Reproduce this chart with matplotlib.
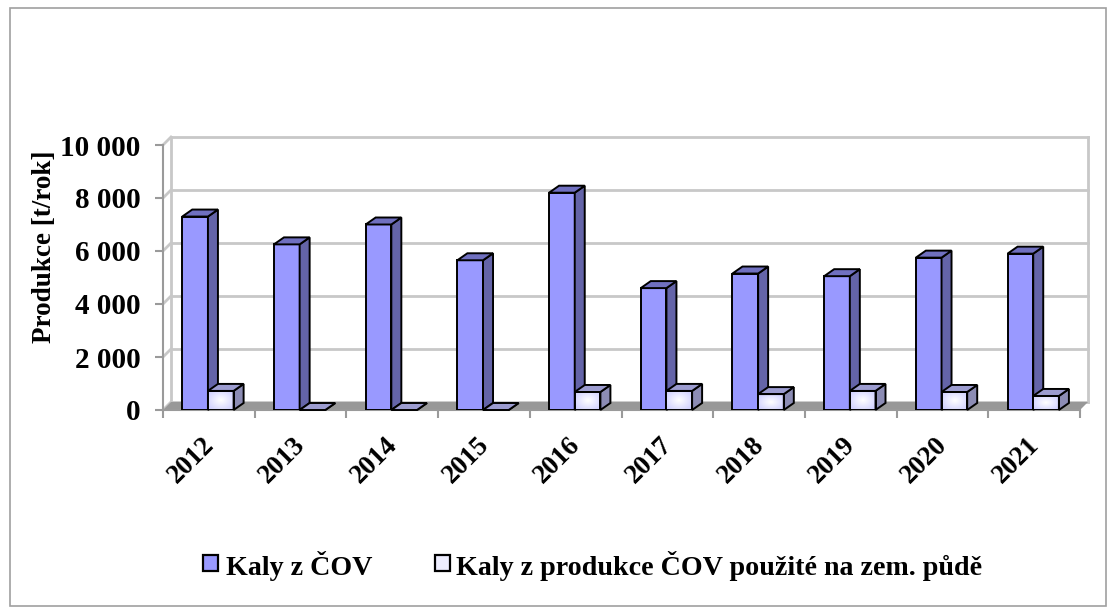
import matplotlib
matplotlib.use('Agg')
import matplotlib.pyplot as plt
from matplotlib.patches import Polygon, Rectangle
from matplotlib.transforms import IdentityTransform, ScaledTranslation
from matplotlib.lines import Line2D
import numpy as np

years = ['2012', '2013', '2014', '2015', '2016', '2017', '2018', '2019', '2020', '2021']
kaly = [7300, 6250, 7000, 5650, 8200, 4600, 5150, 5050, 5750, 5900]
pouzite = [720, 0, 0, 0, 680, 720, 600, 720, 680, 530]
yticks = [0, 2000, 4000, 6000, 8000, 10000]
ytick_labels = ['0', '2 000', '4 000', '6 000', '8 000', '10 000']
series_names = ['Kaly z ČOV', 'Kaly z produkce ČOV použité na zem. půdě']

FONT = 'Liberation Serif'
W, H = 1107, 610
fig = plt.figure(figsize=(W / 100, H / 100), dpi=100)
fig.patch.set_facecolor('white')
ax = fig.add_axes([163 / W, 1 - 410 / H, (1080 - 163) / W, (410 - 145) / H])
ax.set_xlim(-0.5, 9.5)
ax.set_ylim(0, 10000)
ax.patch.set_visible(False)
for s in ['top', 'right']:
    ax.spines[s].set_visible(False)
for s in ['left', 'bottom']:
    ax.spines[s].set_color('#9a9a9a')
    ax.spines[s].set_linewidth(1.5)

ident = IdentityTransform()
WALL = (8, 8)   # depth offset for back wall (px)
BD = (10, 7)    # depth offset for bars (px)

def px(x, y):
    return ax.transData.transform((x, y))

# back wall gridlines + side wall diagonals
for v in yticks:
    a = px(-0.5, v)
    b = px(9.5, v)
    ax.add_line(Line2D([a[0] + WALL[0], b[0] + WALL[0]], [a[1] + WALL[1], b[1] + WALL[1]],
                       transform=ident, color='#c8c8c8', lw=2, zorder=1, clip_on=False))
    ax.add_line(Line2D([a[0], a[0] + WALL[0]], [a[1], a[1] + WALL[1]],
                       transform=ident, color='#c8c8c8', lw=2, zorder=1, clip_on=False))
for xe in (-0.5, 9.5):
    a = px(xe, 0); b = px(xe, 10000)
    ax.add_line(Line2D([a[0] + WALL[0], b[0] + WALL[0]], [a[1] + WALL[1], b[1] + WALL[1]],
                       transform=ident, color='#c8c8c8', lw=2, zorder=1, clip_on=False))

# floor
f0 = px(-0.5, 0); f1 = px(9.5, 0)
ax.add_patch(Polygon([f0, f1, (f1[0] + WALL[0], f1[1] + WALL[1]), (f0[0] + WALL[0], f0[1] + WALL[1])],
                     closed=True, transform=ident, facecolor='#989898', edgecolor='none',
                     zorder=2, clip_on=False))

bw = 0.28
xs = np.arange(len(years))
blue_x = xs - 0.29
white_x = xs - 0.01

def bar3d(x0, h, side, top, z):
    p1 = px(x0 + bw, 0); q1 = px(x0 + bw, h); q0 = px(x0, h)
    dx, dy = BD
    ax.add_patch(Polygon([p1, (p1[0] + dx, p1[1] + dy), (q1[0] + dx, q1[1] + dy), q1],
                         closed=True, transform=ident, facecolor=side, edgecolor='black',
                         lw=1.4, zorder=z, clip_on=False))
    ax.add_patch(Polygon([q0, q1, (q1[0] + dx, q1[1] + dy), (q0[0] + dx, q0[1] + dy)],
                         closed=True, transform=ident, facecolor=top, edgecolor='black',
                         lw=1.4, zorder=z, clip_on=False))

# radial gradient for light bars
gy, gx = np.mgrid[-1:1:40j, -1:1:40j]
r = np.clip(np.sqrt(gx ** 2 + gy ** 2) / 1.2, 0, 1)
c_in = np.array([1.0, 1.0, 1.0]); c_out = np.array([0.82, 0.82, 1.0])
grad = c_in[None, None, :] * (1 - r[..., None]) + c_out[None, None, :] * r[..., None]

for i in range(len(years)):
    z = 3 + i * 2
    ax.bar(blue_x[i], kaly[i], width=bw, align='edge', color='#9999ff', edgecolor='black',
           lw=1.4, zorder=z)
    bar3d(blue_x[i], kaly[i], '#6464a8', '#7070c0', z)
    zb = z + 1
    bars = ax.bar(white_x[i], pouzite[i], width=bw, align='edge', color='#eeeeff',
                  edgecolor='black', lw=1.4, zorder=zb)
    if pouzite[i] > 0:
        im = ax.imshow(grad, extent=[white_x[i], white_x[i] + bw, 0, pouzite[i]],
                       aspect='auto', zorder=zb, interpolation='bilinear')
        im.set_clip_path(bars.patches[0])
        ax.bar(white_x[i], pouzite[i], width=bw, align='edge', fill=False,
               edgecolor='black', lw=1.4, zorder=zb + 0.1)
    bar3d(white_x[i], pouzite[i], '#8c8cb4', '#9c9cd0', zb)

ax.set_xlim(-0.5, 9.5)
ax.set_ylim(0, 10000)

# ticks
ax.set_yticks(yticks)
ax.set_yticklabels(ytick_labels, fontfamily=FONT, fontweight='bold', fontsize=21)
ax.tick_params(axis='y', direction='out', length=6, width=1.5, color='#9a9a9a', pad=10)
ax.set_xticks(xs)
ax.set_xticklabels(years, fontfamily=FONT, fontweight='bold', fontsize=19.5, rotation=45,
                   ha='right', va='top')
ax.tick_params(axis='x', which='major', length=0, pad=16)
shift = ScaledTranslation(10 / 100, 0, fig.dpi_scale_trans)
for lab in ax.get_xticklabels():
    lab.set_transform(lab.get_transform() + shift)
ax.set_xticks(np.arange(-0.5, 10, 1), minor=True)
ax.tick_params(axis='x', which='minor', direction='out', length=6, width=1.5, color='#9a9a9a')

fig.text(45 / W, 1 - 247 / H, 'Produkce [t/rok]', rotation=90, ha='center', va='center',
         fontfamily=FONT, fontweight='bold', fontsize=19.5)

# legend (drawn manually for exact placement)
leg_y = 563
legend_items = [(203, 226, '#9999ff'), (435, 456, '#eeeeff')]
for (sq_x, tx, col), name in zip(legend_items, series_names):
    fig.add_artist(Rectangle((sq_x / W, 1 - (leg_y + 8) / H), 15 / W, 16 / H,
                             transform=fig.transFigure, facecolor=col, edgecolor='black', lw=1.6))
    fig.text(tx / W, 1 - leg_y / H, name, ha='left', va='center_baseline',
             fontfamily=FONT, fontweight='bold', fontsize=20.2)

# outer chart border
fig.add_artist(Rectangle((10 / W, 1 - 606 / H), (1106 - 10) / W, (606 - 8) / H,
                         transform=fig.transFigure, fill=False, edgecolor='#a0a0a0', lw=1.2))

fig.savefig('out.png', dpi=100)
